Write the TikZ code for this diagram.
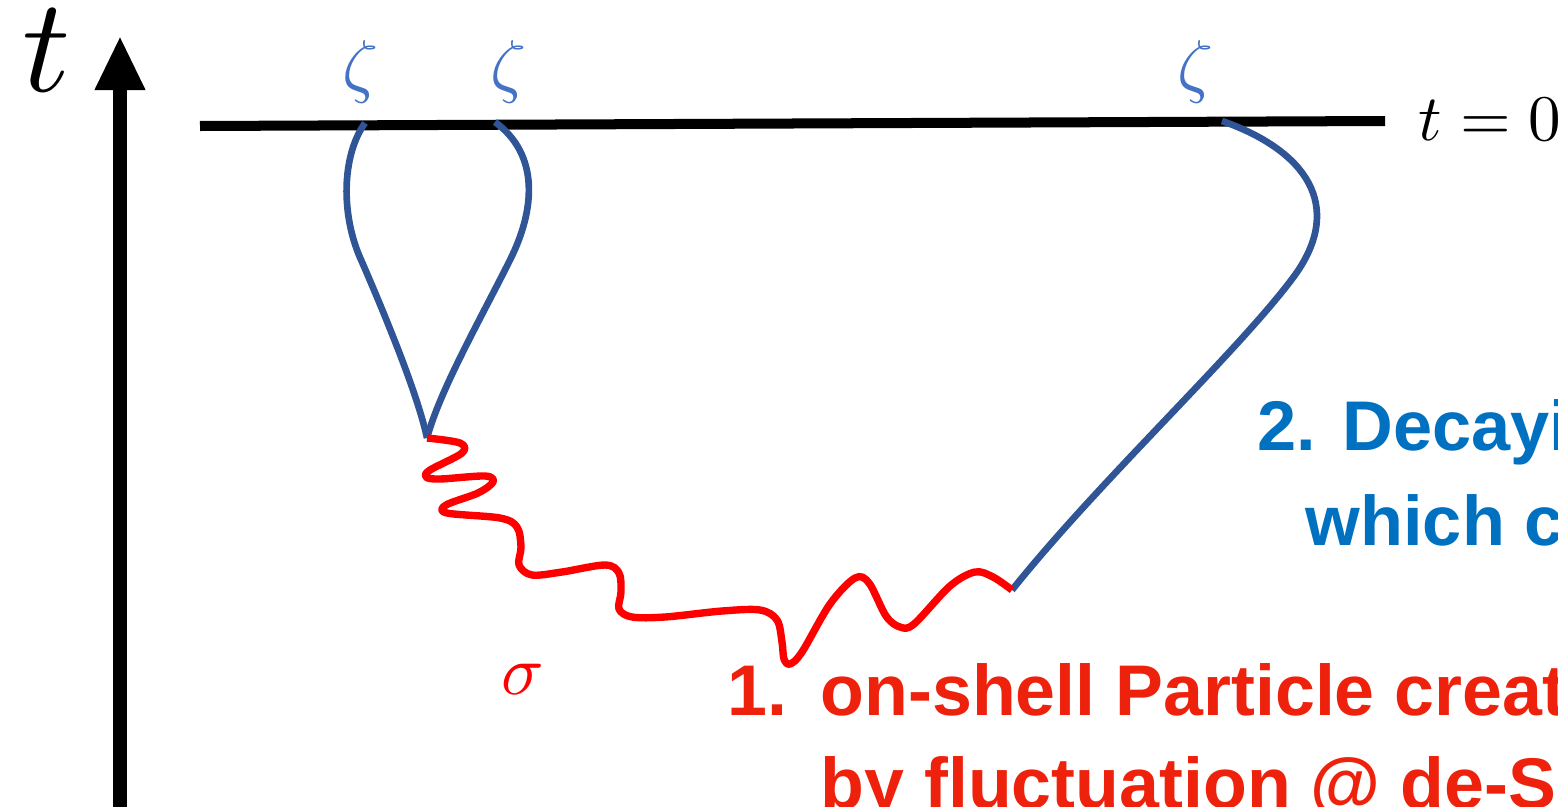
\documentclass[tikz,border=0pt]{standalone}
\usepackage{fontspec}
\usepackage{unicode-math}
\setsansfont{Liberation Sans}
\usetikzlibrary{arrows.meta}
\definecolor{lineblue}{RGB}{47,85,151}
\definecolor{zetablue}{RGB}{68,114,196}
\definecolor{txtblue}{RGB}{0,112,192}
\definecolor{txtred}{RGB}{238,34,12}

\begin{document}
\begin{tikzpicture}[x=0.01cm, y=-0.01cm,
    bline/.style={draw=lineblue, line width=1.9pt},
    wave/.style={draw=red, line width=2.1pt, line join=round},
    zeta/.style={text=zetablue, font=\fontsize{20}{22}\selectfont},
    redtxt/.style={text=txtred, anchor=base west, inner sep=0pt, font=\sffamily\bfseries\fontsize{20.4}{24}\selectfont},
    bluetxt/.style={text=txtblue, anchor=base west, inner sep=0pt, font=\sffamily\bfseries\fontsize{20}{24}\selectfont}]
    \useasboundingbox (0,0) rectangle (1558,806);
    \clip (0,0) rectangle (1558,806);

    % Time axis
    \coordinate (axbot) at (120,830);
    \coordinate (axtop) at (120,36);
    \draw[line width=0.13cm, -{Triangle[length=0.54cm, width=0.47cm]}] (axbot) -- (axtop);
    \node[font=\fontsize{38}{40}\selectfont, inner sep=0pt] (tlbl) at (47,50) {$t$};

    % Slice at t = 0
    \coordinate (sl) at (200,126);
    \coordinate (sr) at (1385,121);
    \draw[line width=0.1cm] (sl) -- (sr);
    \node[anchor=base west, inner sep=0pt, font=\fontsize{18.5}{20}\selectfont] (tzero) at (1418,140) {$t=0$};

    % External legs
    \coordinate (z1) at (365,123);
    \coordinate (z2) at (495,122);
    \coordinate (z3) at (1222,121);
    \coordinate (vtx) at (427,438);
    \coordinate (dec) at (1012,590);
    \node[zeta] (zl1) at (360,72) {$\zeta$};
    \node[zeta] (zl2) at (508,72) {$\zeta$};
    \node[zeta] (zl3) at (1195,72) {$\zeta$};

    \draw[bline] (z1) .. controls (342,155) and (340,215) .. (362,262)
        .. controls (385,315) and (418,395) .. (vtx);
    \draw[bline] (z2) .. controls (540,155) and (535,210) .. (510,260)
        .. controls (480,320) and (440,390) .. (vtx);
    \draw[bline] (z3) .. controls (1305,150) and (1345,205) .. (1295,275)
        .. controls (1240,350) and (1100,480) .. (dec);

    % sigma propagator
    \draw[wave] plot[smooth, tension=0.55] coordinates {(vtx) (460,443) (462,453) (430,470)
        (426,477) (440,479) (485,476) (493,482) (478,493) (446,505) (447,513) (500,518)
        (517,527) (521,547) (519,565) (532,575) (562,572) (605,565) (619,573) (621,592)
        (619,609) (632,617) (665,617) (722,611) (760,610) (777,620) (782,642) (784,659)
        (790,664) (802,652) (830,604) (855,578) (869,583) (886,616) (900,627) (914,624)
        (950,586) (975,572) (993,577) (dec)};
    \node[text=red, font=\fontsize{20}{22}\selectfont] (slbl) at (522,680) {$\sigma$};

    % Labels
    \node[redtxt] (num1) at (727,715) {1.};
    \node[redtxt] (lbl1a) at (820,715) {on-shell Particle creat};
    \node[redtxt] (lbl1b) at (820,808) {by fluctuation @ de-S};
    \node[bluetxt] (lbl2a) at (1257,450) {2. Decayi};
    \node[bluetxt] (lbl2b) at (1305,545) {which c};
\end{tikzpicture}
\end{document}
